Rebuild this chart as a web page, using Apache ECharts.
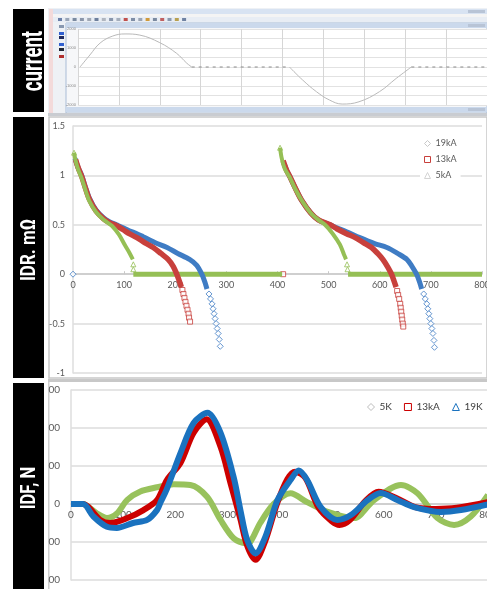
<!DOCTYPE html>
<html><head><meta charset="utf-8">
<script src="https://cdn.jsdelivr.net/npm/echarts/dist/echarts.min.js"></script>
<style>html,body{margin:0;padding:0;background:#fff}#c{width:487px;height:589px}</style>
</head><body><div id="c"></div>
<script>
// ---------- top panel: current trace ----------
const currentPos = [[0.05,0],[0.29,0.63],[0.54,1.26],[0.85,1.63],[1.15,1.74],[1.51,1.68],[2.0,1.28],[2.41,0.72],[2.66,0.2],[2.78,0]];
const currentNeg = [[5.17,0],[5.49,-0.68],[5.83,-1.3],[6.15,-1.74],[6.46,-1.95],[6.87,-1.83],[7.37,-1.3],[7.78,-0.6],[8.15,0]];
const currentFlatA = [[2.78,0],[5.17,0]];
const currentFlatB = [[8.15,0],[10,0]];

// ---------- middle panel: IDR, mOhm ----------
const idrNames = ['19kA','13kA','5kA'];
const idr19kA_c1 = [[4,1.17],[10,1.08],[17,1.0],[25,0.87],[32,0.77],[45,0.65],[60,0.57],[72,0.53],[85,0.5],[98,0.47],[110,0.44],[125,0.41],[137,0.38],[160,0.32],[184,0.27],[205,0.21],[228,0.15],[242,0.09],[252,0.0],[258,-0.08],[262,-0.15]];
const idr19kA_c1tail = [[0,0],[266,-0.2],[269,-0.25],[272,-0.3],[274,-0.35],[276,-0.4],[278,-0.45],[280,-0.5],[282,-0.55],[284,-0.6],[286,-0.66],[288,-0.73]];
const idr19kA_c2 = [[413,1.12],[418,1.05],[424,0.99],[435,0.87],[447,0.75],[465,0.62],[480,0.55],[503,0.5],[516,0.47],[535,0.43],[561,0.37],[590,0.31],[614,0.27],[635,0.21],[653,0.15],[663,0.08],[672,0.0],[678,-0.08],[682,-0.15]];
const idr19kA_c2tail = [[686,-0.2],[689,-0.25],[692,-0.3],[694,-0.35],[696,-0.4],[698,-0.45],[700,-0.5],[702,-0.55],[704,-0.6],[706,-0.67],[707,-0.74]];
const idr13kA_c1 = [[5,1.16],[10,1.08],[17,0.99],[25,0.86],[32,0.76],[45,0.64],[60,0.56],[72,0.52],[85,0.49],[98,0.45],[110,0.41],[125,0.37],[140,0.32],[157,0.27],[172,0.21],[186,0.15],[196,0.08],[203,0.0],[208,-0.07],[212,-0.13]];
const idr13kA_c1tail = [[214,-0.16],[216,-0.2],[218,-0.24],[220,-0.28],[222,-0.32],[224,-0.36],[226,-0.4],[227,-0.44],[229,-0.48],[411,0]];
const idr13kA_c2 = [[411,1.15],[418,1.05],[424,0.99],[435,0.87],[447,0.75],[465,0.62],[480,0.55],[503,0.5],[516,0.46],[535,0.41],[552,0.37],[568,0.32],[584,0.27],[596,0.21],[606,0.15],[616,0.07],[623,0.0],[628,-0.07],[632,-0.13]];
const idr13kA_c2tail = [[634,-0.17],[636,-0.21],[638,-0.25],[640,-0.3],[641,-0.34],[642,-0.38],[643,-0.42],[644,-0.46],[645,-0.5],[646,-0.53]];
const idr5kA_c1 = [[2,1.23],[5,1.15],[10,1.06],[17,0.97],[25,0.84],[32,0.74],[45,0.63],[60,0.55],[76,0.49],[90,0.4],[102,0.29],[110,0.22],[117,0.15]];
const idr5kA_c1tail = [[2,1.23],[118,0.1],[118,0.05]];
const idr5kA_c2 = [[405,1.28],[408,1.18],[414,1.07],[424,0.98],[435,0.86],[447,0.75],[465,0.62],[480,0.55],[493,0.5],[508,0.41],[522,0.3],[530,0.2],[534,0.15]];
const idr5kA_c2tail = [[405,1.28],[536,0.1],[537,0.05]];
const idr5kA_zeroA = [[118,0],[409,0]];
const idr5kA_zeroB = [[538,0],[800,0]];

// ---------- bottom panel: IDF, N ----------
const idfNames = ['5K','13kA','19K'];
const idf5K = [[0,0],[23,0],[31,-5],[50,-25],[69,-37],[88,-25],[108,11],[133,33],[165,44],[197,52],[229,50],[261,19],[287,-42],[312,-90],[335,-103],[344,-100],[363,-50],[389,0],[421,28],[453,5],[491,-20],[543,-37],[581,10],[633,50],[665,28],[703,-37],[735,-55],[767,-33],[800,24]];
const idf13kA = [[0,0],[23,0],[56,-42],[75,-50],[108,-37],[139,-16],[165,10],[184,63],[210,108],[235,187],[260,223],[287,150],[306,55],[325,-40],[338,-110],[354,-147],[372,-100],[395,0],[415,65],[430,85],[450,68],[475,-10],[500,-45],[515,-55],[535,-42],[565,8],[590,32],[625,15],[660,-8],[700,-13],[740,-10],[800,5]];
const idf19K = [[0,0],[23,0],[43,-33],[69,-60],[88,-63],[119,-50],[146,-42],[165,-16],[172,5],[184,40],[210,134],[235,213],[262,240],[287,187],[312,71],[325,-16],[338,-95],[354,-130],[373,-86],[396,10],[421,63],[437,88],[453,63],[479,-8],[511,-42],[537,-29],[569,10],[594,29],[627,10],[658,-8],[710,-21],[748,-16],[800,-1]];

const panelLabels = ['current','IDR. mΩ','IDF, N'];

const C = {
  blue:'#3f7cc4', red:'#c8403c', green:'#95bf55',
  blue2:'#1a72bf', red2:'#cc0000', green2:'#98c25c',
  grid:'#dcdcdc', label:'#595959'
};
const FONT = 'Lato, "Open Sans", sans-serif';

function line(name, data, ax, color, width, extra) {
  return Object.assign({
    name, type:'line', xAxisIndex:ax, yAxisIndex:ax, data,
    smooth:0.3, symbol:'none', lineStyle:{color, width}, itemStyle:{color},
    silent:true
  }, extra||{});
}
function dots(name, data, color, symbol, size) {
  return {
    name, type:'scatter', xAxisIndex:1, yAxisIndex:1, data,
    symbol, symbolSize:size,
    itemStyle:{color:'#fff', borderColor:color, borderWidth:1}, silent:true
  };
}

// ---------- decorative chrome (window screenshot + label bars) ----------
const bg = [];
bg.push({type:'rect', z:-2, shape:{x:48,y:8,width:439,height:108}, style:{fill:'#eef1f5'}});
bg.push({type:'rect', z:-1, shape:{x:49,y:9,width:4,height:104}, style:{fill:'#f3dada'}});
bg.push({type:'rect', z:-1, shape:{x:53,y:9,width:434,height:5}, style:{fill:'#d8e3f2'}});
bg.push({type:'rect', z:-1, shape:{x:53,y:14,width:434,height:3}, style:{fill:'#f4f4f4'}});
bg.push({type:'rect', z:-1, shape:{x:53,y:17,width:434,height:5}, style:{fill:'#e8edf4'}});
bg.push({type:'rect', z:-1, shape:{x:66,y:23,width:421,height:90}, style:{fill:'#f6f7f9', stroke:'#a9bcd6', lineWidth:1}});
bg.push({type:'rect', z:-1, shape:{x:66,y:23,width:421,height:5}, style:{fill:'#cbd9ec'}});
bg.push({type:'rect', z:-1, shape:{x:66,y:107,width:421,height:5}, style:{fill:'#cbd9ec'}});
bg.push({type:'rect', z:-1, shape:{x:48,y:113,width:439,height:3}, style:{fill:'#c9ccd1'}});
const tbColors = ['#6a7fa8','#9aa6b8','#7a8aa0','#8a96aa','#a0a8b4','#6d7f9c','#b0b6c0','#8896ac','#a4aebc','#c0504d','#7f8ea6','#9aa4b4','#d09a3a','#7a8aa0','#c06060','#8a98ae','#b8a050','#6f82a2'];
tbColors.forEach((c,i)=>bg.push({type:'rect', z:-1, shape:{x:58+i*7.3,y:18,width:4,height:3}, style:{fill:c}}));
[['#8898b0',25],['#2f5fd0',32],['#1e2a60',36],['#3060d0',43],['#202838',48],['#b03030',55]].forEach(([c,y])=>
  bg.push({type:'rect', z:-1, shape:{x:59,y:y,width:5,height:3}, style:{fill:c}}));
bg.push({type:'rect', z:-1, shape:{x:468,y:10,width:17,height:3}, style:{fill:'#b8c4d6'}});
bg.push({type:'rect', z:-1, shape:{x:468,y:24,width:17,height:3}, style:{fill:'#b8c4d6'}});
bg.push({type:'rect', z:-1, shape:{x:468,y:108,width:17,height:3}, style:{fill:'#b8c4d6'}});
// middle + bottom panels
bg.push({type:'rect', z:-2, shape:{x:49,y:117,width:438,height:261}, style:{fill:'#fff', stroke:'#c8c8c8', lineWidth:1.5}});
bg.push({type:'rect', z:-2, shape:{x:48,y:381,width:439,height:208}, style:{fill:'#fff'}});
bg.push({type:'rect', z:-1, shape:{x:48,y:379,width:439,height:3}, style:{fill:'#c8c8c8'}});
bg.push({type:'rect', z:-1, shape:{x:48,y:382,width:1.5,height:207}, style:{fill:'#cfcfcf'}});
// black label bars
const bars = [[9,103],[117,261],[383,206]];
bars.forEach(([y,h])=>bg.push({type:'rect', z:5, shape:{x:13,y:y,width:31,height:h}, style:{fill:'#000'}}));
const labelPos = [[34,61,30,0.62],[30,250,20,0.85],[30,488,20,0.83]];
panelLabels.forEach((t,i)=>{
  const [x,y,fs,sx] = labelPos[i];
  bg.push({type:'text', z:6, x, y, rotation:Math.PI/2, scaleX:sx,
    style:{text:t, fill:'#fff', fontSize:fs, fontWeight:'bold', fontFamily:'Roboto, sans-serif', textAlign:'center', textVerticalAlign:'middle'}});
});

const noBounds = {outerBoundsMode:'none', containLabel:false};
const option = {
  animation:false,
  backgroundColor:'#fff',
  graphic:{elements:bg},
  grid:[
    Object.assign({left:78, top:29, width:409, height:76, show:true, backgroundColor:'#fff', borderWidth:0}, noBounds),
    Object.assign({left:73, top:126, width:409, height:247}, noBounds),
    Object.assign({left:71, top:390, width:417, height:190}, noBounds),
    // label carriers: bottom edge sits on the zero line
    Object.assign({left:73, top:126, width:409, height:149}, noBounds),
    Object.assign({left:71, top:390, width:417, height:114}, noBounds)
  ],
  legend:[
    {left:420, top:136, orient:'vertical', itemWidth:6, itemHeight:6, itemGap:7, padding:[3,4],
     backgroundColor:'#fff', selectedMode:false,
     textStyle:{fontSize:9, color:C.label, fontFamily:FONT},
     data:[
       {name:idrNames[0], icon:'diamond', itemStyle:{color:'#fff', borderColor:'#c8c8c8', borderWidth:1}},
       {name:idrNames[1], icon:'rect', itemStyle:{color:'#fff', borderColor:C.red, borderWidth:1}},
       {name:idrNames[2], icon:'triangle', itemStyle:{color:'#fff', borderColor:'#d4d4d4', borderWidth:1}}
     ]},
    {left:367, top:402, orient:'horizontal', itemWidth:7, itemHeight:7, itemGap:12, padding:0, selectedMode:false,
     textStyle:{fontSize:10, color:'#404040', fontFamily:FONT},
     data:[
       {name:idfNames[0], icon:'diamond', itemStyle:{color:'#fff', borderColor:'#bdbdbd', borderWidth:1}},
       {name:idfNames[1], icon:'rect', itemStyle:{color:'#fff', borderColor:C.red2, borderWidth:1}},
       {name:idfNames[2], icon:'triangle', itemStyle:{color:'#fff', borderColor:C.blue2, borderWidth:1}}
     ]}
  ],
  xAxis:[
    {gridIndex:0, type:'value', min:0, max:10, interval:1, axisLine:{show:false}, axisTick:{show:false},
     axisLabel:{show:false}, splitLine:{show:true, lineStyle:{color:'#d6d6d6', width:1}}},
    {gridIndex:1, type:'value', min:0, max:800, interval:100,
     axisLine:{onZero:true, lineStyle:{color:'#c8c8c8', width:1.5}},
     axisTick:{show:true, inside:true, length:3, lineStyle:{color:'#c8c8c8'}},
     axisLabel:{show:false}, splitLine:{show:false}},
    {gridIndex:2, type:'value', min:0, max:800, interval:100,
     axisLine:{onZero:true, lineStyle:{color:'#c8c8c8', width:1.5}},
     axisTick:{show:false}, axisLabel:{show:false}, splitLine:{show:false}},
    {gridIndex:3, type:'value', min:0, max:800, interval:100,
     axisLine:{show:false}, axisTick:{show:false}, splitLine:{show:false},
     axisLabel:{fontSize:9, color:C.label, margin:6, fontFamily:FONT}},
    {gridIndex:4, type:'value', min:0, max:800, interval:100,
     axisLine:{show:false}, axisTick:{show:false}, splitLine:{show:false},
     axisLabel:{fontSize:10, color:C.label, margin:6, fontFamily:FONT}}
  ],
  yAxis:[
    {gridIndex:0, type:'value', min:-2, max:2, interval:0.5, axisLine:{show:false}, axisTick:{show:false},
     axisLabel:{fontSize:4, color:'#888', margin:2, formatter:v=> (v%1===0 ? String(v*1000) : '')},
     splitLine:{show:true, lineStyle:{color:'#e2e2e2', width:1}}},
    {gridIndex:1, type:'value', min:-1, max:1.5, interval:0.5,
     axisLine:{show:true, lineStyle:{color:'#dedede', width:1.5}}, axisTick:{show:false},
     axisLabel:{fontSize:9, color:C.label, margin:8, fontFamily:FONT},
     splitLine:{show:true, lineStyle:{color:C.grid, width:1.5}}},
    {gridIndex:2, type:'value', min:-200, max:300, interval:100,
     axisLine:{show:true, lineStyle:{color:'#dedede', width:1.5}}, axisTick:{show:false},
     axisLabel:{fontSize:10, color:C.label, margin:11, fontFamily:FONT,
       formatter:v=>String(Math.abs(v)).slice(-2)},
     splitLine:{show:true, lineStyle:{color:C.grid, width:1.5}}},
    {gridIndex:3, type:'value', min:0, max:1, show:false},
    {gridIndex:4, type:'value', min:0, max:1, show:false}
  ],
  series:[
    // top: current
    line('I+', currentPos, 0, '#b9b9b9', 1, {smooth:0.4}),
    line('I-', currentNeg, 0, '#b9b9b9', 1, {smooth:0.4}),
    line('I0a', currentFlatA, 0, '#8a8a8a', 1, {smooth:false, lineStyle:{color:'#8a8a8a', width:1, type:[3,4]}}),
    line('I0b', currentFlatB, 0, '#8a8a8a', 1, {smooth:false, lineStyle:{color:'#8a8a8a', width:1, type:[3,4]}}),
    // middle: IDR
    line(idrNames[2], idr5kA_zeroA, 1, C.green, 5, {smooth:false}),
    line(idrNames[2], idr5kA_zeroB, 1, C.green, 5, {smooth:false}),
    line(idrNames[0], idr19kA_c1, 1, C.blue, 5),
    line(idrNames[0], idr19kA_c2, 1, C.blue, 5),
    dots(idrNames[0], idr19kA_c1tail, C.blue, 'diamond', 6),
    dots(idrNames[0], idr19kA_c2tail, C.blue, 'diamond', 6),
    line(idrNames[1], idr13kA_c1, 1, C.red, 5.5),
    line(idrNames[1], idr13kA_c2, 1, C.red, 5.5),
    dots(idrNames[1], idr13kA_c1tail, C.red, 'rect', 5),
    dots(idrNames[1], idr13kA_c2tail, C.red, 'rect', 5),
    line(idrNames[2], idr5kA_c1, 1, C.green, 4),
    line(idrNames[2], idr5kA_c2, 1, C.green, 4),
    dots(idrNames[2], idr5kA_c1tail, C.green, 'triangle', 5),
    dots(idrNames[2], idr5kA_c2tail, C.green, 'triangle', 5),
    // bottom: IDF
    line(idfNames[0], idf5K, 2, C.green2, 6),
    line(idfNames[1], idf13kA, 2, C.red2, 6),
    line(idfNames[2], idf19K, 2, C.blue2, 6)
  ]
};
const chart = echarts.init(document.getElementById('c'));
chart.setOption(option);
</script></body></html>
